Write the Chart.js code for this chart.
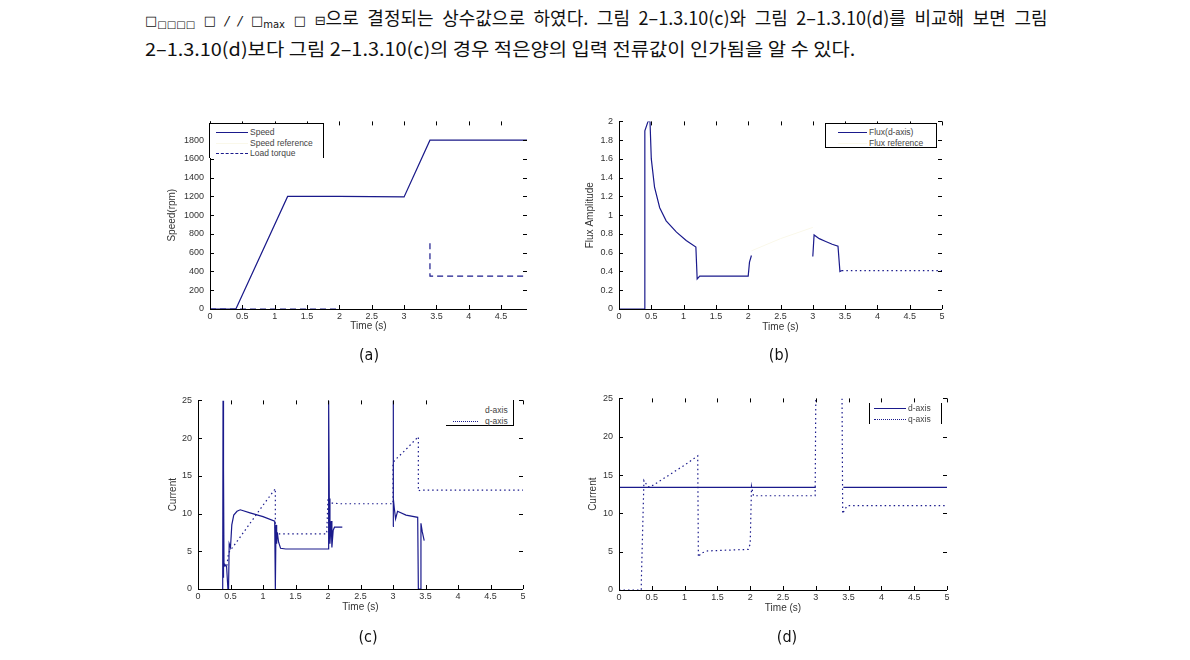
<!DOCTYPE html>
<html>
<head>
<meta charset="utf-8">
<script src="https://cdn.jsdelivr.net/npm/chart.js@4"></script>
<style>
  body { margin: 0; background: #fff; }
  #page { position: relative; width: 1190px; height: 660px; overflow: hidden; background: #fff; }
  .txt { position: absolute; left: 145px; font: 18px "Noto Sans CJK KR", sans-serif; line-height: 24px; color: #111; white-space: nowrap; transform-origin: left center; }
  .txt sub { font-size: 10px; vertical-align: -3px; }
  .txt .bx { font: 13px "DejaVu Sans", sans-serif; color: #111; }
  canvas { position: absolute; }
  .cap { position: absolute; width: 40px; margin-left: -20px; text-align: center; font: 16px "Liberation Sans Narrow", "DejaVu Sans Condensed", sans-serif; line-height: 20px; color: #111; }
  .leg { position: absolute; background: #fff; box-sizing: border-box; border: 0 solid #000; }
  .leg .row { position: absolute; height: 10px; font: 8.5px "Liberation Sans", sans-serif; line-height: 10px; color: #444; white-space: nowrap; }
  .leg .smp { position: absolute; height: 0; }
</style>
</head>
<body>
<div id="page">
  <div class="txt" id="l1" style="top:5px"><span class="bx">□<sub>□□□□</sub> □ <i>/ /</i> □<sub>max</sub> □ ⊟</span>으로 결정되는 상수값으로 하였다. 그림 2–1.3.10(c)와 그림 2–1.3.10(d)를 비교해 보면 그림</div>
  <div class="txt" id="l2" style="top:36px">2–1.3.10(d)보다 그림 2–1.3.10(c)의 경우 적은양의 입력 전류값이 인가됨을 알 수 있다.</div>

  <canvas id="ca" width="390" height="240" style="left:150px;top:110px"></canvas>
  <canvas id="cb" width="390" height="240" style="left:570px;top:110px"></canvas>
  <canvas id="cc" width="390" height="240" style="left:150px;top:389px"></canvas>
  <canvas id="cd" width="390" height="240" style="left:570px;top:387px"></canvas>

  <div class="cap" style="left:369px;top:345px">(a)</div>
  <div class="cap" style="left:779px;top:345px">(b)</div>
  <div class="cap" style="left:368px;top:627px">(c)</div>
  <div class="cap" style="left:787px;top:627px">(d)</div>
</div>
<script>
// ---- data ----
// (a) speed and load torque
const aTime     = [0, 0.4, 1.2, 2.0, 3.0, 3.4, 4.9];
const aSpeed    = [0, 0, 1200, 1200, 1195, 1800, 1800];
const aSpeedRef = [0, 0, 1200, 1200, 1200, 1800, 1800];
const aLoadTime = [0, 2.0, 2.5, 3.4, 3.4, 4.9];
const aLoad     = [0, 0, null, 700, 350, 350];
const aXTicks   = [0, 0.5, 1, 1.5, 2, 2.5, 3, 3.5, 4, 4.5];
const aYTicks   = [0, 200, 400, 600, 800, 1000, 1200, 1400, 1600, 1800];

// (b) flux amplitude
const bTime = [0, 0.40, 0.40, 0.45, 0.48, 0.50, 0.55, 0.63, 0.73, 0.89, 1.04, 1.19, 1.21, 1.25,
               2.00, 2.02, 2.05, 2.5, 3.00, 3.02, 3.10, 3.20, 3.30, 3.39, 3.42, 3.45, 5.00];
const bFlux = [0, 0, 1.9, 2.0, 2.0, 1.6, 1.3, 1.08, 0.94, 0.82, 0.73, 0.66, 0.32, 0.35,
               0.35, 0.50, 0.57, null, 0.56, 0.79, 0.75, 0.72, 0.69, 0.67, 0.40, 0.41, 0.41];
const bRefTime = [2.05, 2.5, 3.0];
const bFluxRef = [0.62, 0.75, 0.87];
const bYTicks  = [0, 0.2, 0.4, 0.6, 0.8, 1, 1.2, 1.4, 1.6, 1.8, 2];

// (c) current, d/q axis
const cTimeD = [0.38, 0.385, 0.39, 0.395, 0.40, 0.42, 0.44, 0.46, 0.47, 0.48, 0.50, 0.52, 0.55, 0.60, 0.65,
                0.80, 1.00, 1.18, 1.19, 1.20, 1.21, 1.22, 1.24, 1.27, 1.35, 2.00, 2.01, 2.02, 2.03, 2.05,
                2.06, 2.08, 2.10, 2.22, 2.6, 3.00, 3.00, 3.01, 3.02, 3.04, 3.07, 3.20, 3.38, 3.39, 3.42,
                3.43, 3.45, 3.48];
const cCurD  = [0, 25, 1.5, 16, 3, 3.2, 3.0, 0, 0, 6, 5.5, 8.5, 9.8, 10.3, 10.5,
                10.1, 9.6, 9.0, 0, 8.5, 6, 7.5, 6.2, 5.4, 5.3, 5.3, 25, 12, 6, 9,
                5.5, 7.8, 8.2, 8.2, null, 8.3, 25, 12, 10.7, 9.3, 10.3, 9.8, 9.5, 0, 0,
                8.7, 7.6, 6.4];
const cTimeQ = [0.40, 0.42, 0.44, 0.47, 0.60, 0.80, 1.00, 1.19, 1.19, 1.22, 1.30, 1.98, 2.00, 2.03, 2.20,
                3.00, 3.00, 3.02, 3.20, 3.39, 3.39, 3.42, 5.00];
const cCurQ  = [3.2, 3.4, 2.8, 4.8, 6.3, 8.7, 11.1, 13.3, 7.8, 7.3, 7.3, 7.3, 12.0, 11.4, 11.3,
                11.3, 16.5, 17.0, 18.5, 20.2, 13.0, 13.1, 13.1];

// (d) current, d/q axis
const dTimeD = [0, 0, 3.0, 3.2, 3.42, 5.0];
const dCurD  = [25, 13.4, 13.4, null, 13.4, 13.4];
const dTimeQ = [0, 0.34, 0.34, 0.38, 0.44, 0.47, 0.80, 1.00, 1.20, 1.21, 1.25, 1.35, 1.97, 2.00, 2.02,
                2.05, 2.99, 3.00, 3.20, 3.40, 3.41, 3.44, 3.48, 5.00];
const dCurQ  = [0, 0, 1, 14.3, 13.5, 13.4, 15.2, 16.3, 17.5, 4.3, 4.8, 5.1, 5.3, 6.0, 13.5,
                12.3, 12.3, 25, null, 25, 9.95, 10.5, 11, 11];

const xTicks5  = [0, 0.5, 1, 1.5, 2, 2.5, 3, 3.5, 4, 4.5, 5];
const curTicks = [0, 5, 10, 15, 20, 25];

// ---- styling ----
const navy = '#1a1a8c';
const faint = '#faf8ea';
const dotted = [1.5, 3];

Chart.defaults.font.family = '"Liberation Sans", Arial, sans-serif';
Chart.defaults.font.size = 9;
Chart.defaults.color = '#333';

function pts(ts, vs) {
  return ts.map((t, i) => ({ x: t, y: vs[i] }));
}

// left/bottom axis lines plus inward tick marks on all four sides (matlab look)
const frameTicks = {
  id: 'frameTicks',
  afterDraw(chart) {
    const { ctx, chartArea: a, scales: { x, y } } = chart;
    ctx.save();
    ctx.strokeStyle = '#000';
    ctx.lineWidth = 1;
    ctx.beginPath();
    ctx.moveTo(Math.round(a.left) + 0.5, a.top);
    ctx.lineTo(Math.round(a.left) + 0.5, Math.round(a.bottom) + 0.5);
    ctx.lineTo(a.right, Math.round(a.bottom) + 0.5);
    ctx.stroke();
    ctx.beginPath();
    x.ticks.forEach(t => {
      const px = Math.round(x.getPixelForValue(t.value)) + 0.5;
      ctx.moveTo(px, a.bottom); ctx.lineTo(px, a.bottom - 4);
      ctx.moveTo(px, a.top); ctx.lineTo(px, a.top + 4);
    });
    y.ticks.forEach(t => {
      const py = Math.round(y.getPixelForValue(t.value)) + 0.5;
      ctx.moveTo(a.left, py); ctx.lineTo(a.left + 4, py);
      ctx.moveTo(a.right, py); ctx.lineTo(a.right - 4, py);
    });
    ctx.stroke();
    ctx.restore();
  }
};

function makeChart(id, datasets, o) {
  return new Chart(document.getElementById(id), {
    type: 'line',
    data: { datasets },
    options: {
      responsive: false,
      animation: false,
      devicePixelRatio: 1,
      spanGaps: false,
      layout: { padding: { top: 10, right: o.padRight, left: 0, bottom: 0 } },
      plugins: { legend: { display: false }, tooltip: { enabled: false } },
      elements: { point: { radius: 0 }, line: { tension: 0, borderWidth: 1.2 } },
      scales: {
        x: {
          type: 'linear', min: 0, max: o.xMax,
          grid: { display: false, drawTicks: false },
          border: { display: false },
          afterBuildTicks: s => { s.ticks = o.xTicks.map(v => ({ value: v })); },
          afterFit: s => { s.height = o.xH; },
          ticks: { padding: 2, maxRotation: 0, autoSkip: false, callback: v => String(v) },
          title: { display: true, text: 'Time (s)', font: { size: 10 }, padding: { top: 0, bottom: o.xTitlePad } }
        },
        y: {
          type: 'linear', min: 0, max: o.yMax,
          grid: { display: false, drawTicks: false },
          border: { display: false },
          afterBuildTicks: s => { s.ticks = o.yTicks.map(v => ({ value: v })); },
          afterFit: s => { s.width = o.yW; },
          ticks: { padding: 6, autoSkip: false, callback: v => String(v) },
          title: { display: true, text: o.yTitle, font: { size: 10 }, padding: { top: o.yTitlePad, bottom: 0 } }
        }
      }
    },
    plugins: [frameTicks]
  });
}

// datasets listed first are drawn on top, so the faint reference lines go last
makeChart('ca', [
  { data: pts(aTime, aSpeed), borderColor: navy },
  { data: pts(aLoadTime, aLoad), borderColor: navy, borderDash: [6, 4] },
  { data: pts(aTime, aSpeedRef), borderColor: faint, borderWidth: 1 }
], { xMax: 4.9, yMax: 2000, xTicks: aXTicks, yTicks: aYTicks, yW: 60, xH: 41, padRight: 13,
     yTitle: 'Speed(rpm)', yTitlePad: 16, xTitlePad: 18 });

makeChart('cb', [
  { data: pts(bTime, bFlux), borderColor: navy,
    segment: { borderDash: c => c.p0.parsed.x >= 3.45 ? dotted : undefined } },
  { data: pts(bRefTime, bFluxRef), borderColor: faint, borderWidth: 1 }
], { xMax: 5, yMax: 2, xTicks: xTicks5, yTicks: bYTicks, yW: 49, xH: 41, padRight: 18,
     yTitle: 'Flux Amplitude', yTitlePad: 14, xTitlePad: 17 });

makeChart('cc', [
  { data: pts(cTimeD, cCurD), borderColor: navy },
  { data: pts(cTimeQ, cCurQ), borderColor: navy, borderDash: dotted }
], { xMax: 5, yMax: 25, xTicks: xTicks5, yTicks: curTicks, yW: 48, xH: 40, padRight: 17,
     yTitle: 'Current', yTitlePad: 17, xTitlePad: 16 });

makeChart('cd', [
  { data: pts(dTimeD, dCurD), borderColor: navy },
  { data: pts(dTimeQ, dCurQ), borderColor: navy, borderDash: dotted }
], { xMax: 5, yMax: 25, xTicks: xTicks5, yTicks: curTicks, yW: 49, xH: 37, padRight: 13,
     yTitle: 'Current', yTitlePad: 17, xTitlePad: 13 });

// ---- legends (drawn as html boxes inside the plots) ----
function legend(box, sx0, sx1, tx, rows) {
  const page = document.getElementById('page');
  const d = document.createElement('div');
  d.className = 'leg';
  d.style.left = box.l + 'px'; d.style.top = box.t + 'px';
  d.style.width = box.w + 'px'; d.style.height = box.h + 'px';
  d.style.borderWidth = box.b;
  page.appendChild(d);
  rows.forEach(r => {
    if (r.style) {
      const s = document.createElement('div');
      s.className = 'smp';
      s.style.left = (sx0 - box.l) + 'px';
      s.style.top = (r.y - box.t) + 'px';
      s.style.width = (sx1 - sx0) + 'px';
      s.style.borderTop = r.style;
      d.appendChild(s);
    }
    const t = document.createElement('div');
    t.className = 'row';
    t.style.left = (tx - box.l) + 'px';
    t.style.top = (r.y - box.t - 5) + 'px';
    t.textContent = r.label;
    d.appendChild(t);
  });
}

legend({ l: 209, t: 123, w: 115, h: 35, b: '1px 1px 0 1px' }, 215, 247, 249, [
  { label: 'Speed', y: 131, style: '1px solid ' + navy },
  { label: 'Speed reference', y: 142, style: '1px solid ' + faint },
  { label: 'Load torque', y: 152, style: '1px dashed ' + navy }
]);
legend({ l: 825, t: 123, w: 112, h: 25, b: '1px' }, 837, 866, 868, [
  { label: 'Flux(d-axis)', y: 131, style: '1px solid ' + navy },
  { label: 'Flux reference', y: 142, style: '1px solid ' + faint }
]);
legend({ l: 446, t: 400, w: 68, h: 26, b: '0 1px 1px 0' }, 453, 478, 485, [
  { label: 'd-axis', y: 410 },
  { label: 'q-axis', y: 421, style: '1px dotted ' + navy }
]);
legend({ l: 869, t: 403, w: 73, h: 21, b: '0 1px 0 1px' }, 873, 905, 907, [
  { label: 'd-axis', y: 408, style: '1px solid ' + navy },
  { label: 'q-axis', y: 419, style: '1px dotted ' + navy }
]);

// ---- fit the two text lines to the reference widths ----
const l1 = document.getElementById('l1');
const l2 = document.getElementById('l2');
const w1 = l1.scrollWidth;
if (w1 < 903) {
  // spread words like a justified paragraph line
  const gaps = (l1.textContent.match(/ /g) || []).length;
  l1.style.wordSpacing = ((903 - w1) / gaps) + 'px';
} else {
  l1.style.transform = 'scaleX(' + (903 / w1) + ')';
}
l2.style.transform = 'scaleX(' + (710 / l2.scrollWidth) + ')';
</script>
</body>
</html>
